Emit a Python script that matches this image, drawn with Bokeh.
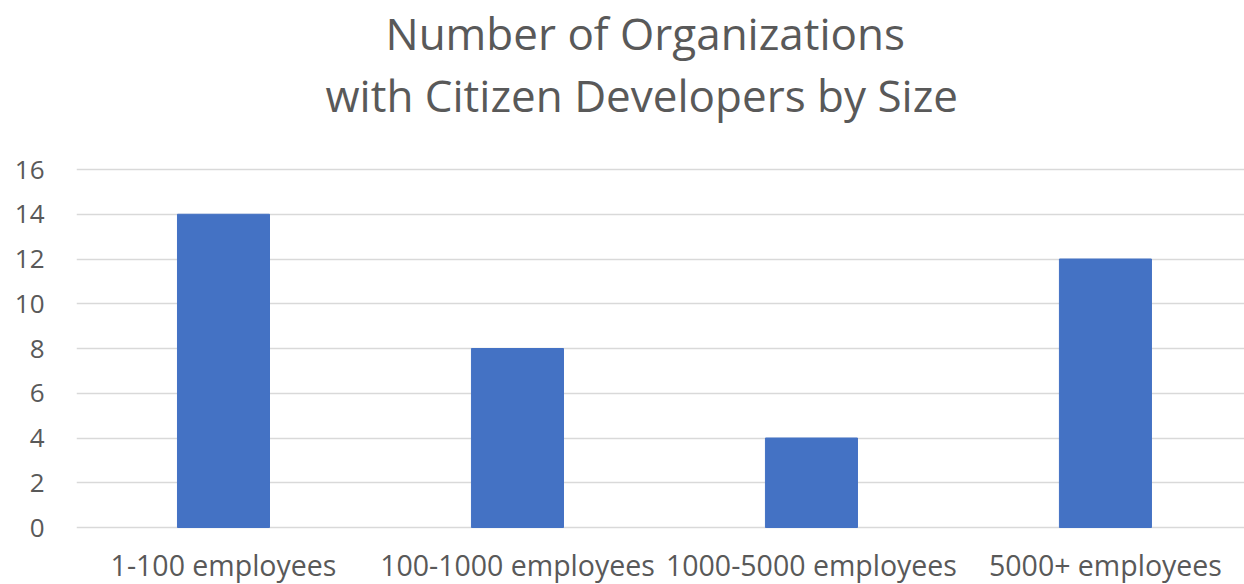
from bokeh.plotting import figure
from bokeh.models import Range1d, FixedTicker, Title, ColumnDataSource
from bokeh.core.properties import value
from bokeh.embed import file_html
from bokeh.resources import INLINE

categories = ["1-100 employees", "100-1000 employees", "1000-5000 employees", "5000+ employees"]
counts = [14, 8, 4, 12]
y_ticks = [0, 2, 4, 6, 8, 10, 12, 14, 16]
title_lines = ["Number of Organizations", "with Citizen Developers by Size"]

positions = [i + 0.5 for i in range(len(categories))]
src = ColumnDataSource(dict(x=positions, top=counts, cat=categories))

FONT = "Open Sans"
GREY = "#595959"

# frame spans from the top border down to the bottom of the canvas; 0..16 maps to 527..169 px
PX_PER_UNIT = 358 / 16
y_start = -(584 - 527) / PX_PER_UNIT
y_end = 16 + 2 / PX_PER_UNIT

p = figure(width=1244, height=584, output_backend="svg", toolbar_location=None,
           x_range=Range1d(0, 3.973), y_range=Range1d(y_start, y_end),
           min_border_left=76, min_border_right=0, min_border_bottom=0, min_border_top=167)
p.title.visible = False

spacer = Title(text=" ", text_font=FONT, text_font_size="1px", standoff=40)
t2 = Title(text=title_lines[1], align="left", offset=249, text_font=FONT, text_font_size="44px",
           text_color=GREY, text_font_style="normal", standoff=0)
t1 = Title(text=title_lines[0], align="left", offset=309, text_font=FONT, text_font_size="44px",
           text_color=GREY, text_font_style="normal", standoff=0)
p.add_layout(spacer, "above")
p.add_layout(t2, "above")
p.add_layout(t1, "above")

p.vbar(x="x", top="top", width=0.313, bottom=0, source=src,
       fill_color="#4472C4", line_color="#4472C4")

p.text(x="x", y=0, text="cat", source=src, y_offset=37,
       text_align="center", text_baseline="alphabetic",
       text_font=value(FONT), text_font_size="28.5px", text_color=GREY)

p.outline_line_color = None
p.background_fill_color = "white"
p.border_fill_color = "white"

p.xgrid.grid_line_color = None
p.ygrid.grid_line_color = "#d9d9d9"
p.ygrid.grid_line_width = 1.5
p.ygrid.ticker = FixedTicker(ticks=y_ticks)
p.ygrid.level = "underlay"

p.yaxis.ticker = FixedTicker(ticks=y_ticks)
p.yaxis.axis_line_color = None
p.yaxis.major_tick_line_color = None
p.yaxis.minor_tick_line_color = None
p.yaxis.major_label_text_font = FONT
p.yaxis.major_label_text_font_size = "26px"
p.yaxis.major_label_text_color = GREY
p.yaxis.major_label_standoff = 26

p.xaxis.visible = False

open("out.html", "w").write(file_html(p, INLINE))
